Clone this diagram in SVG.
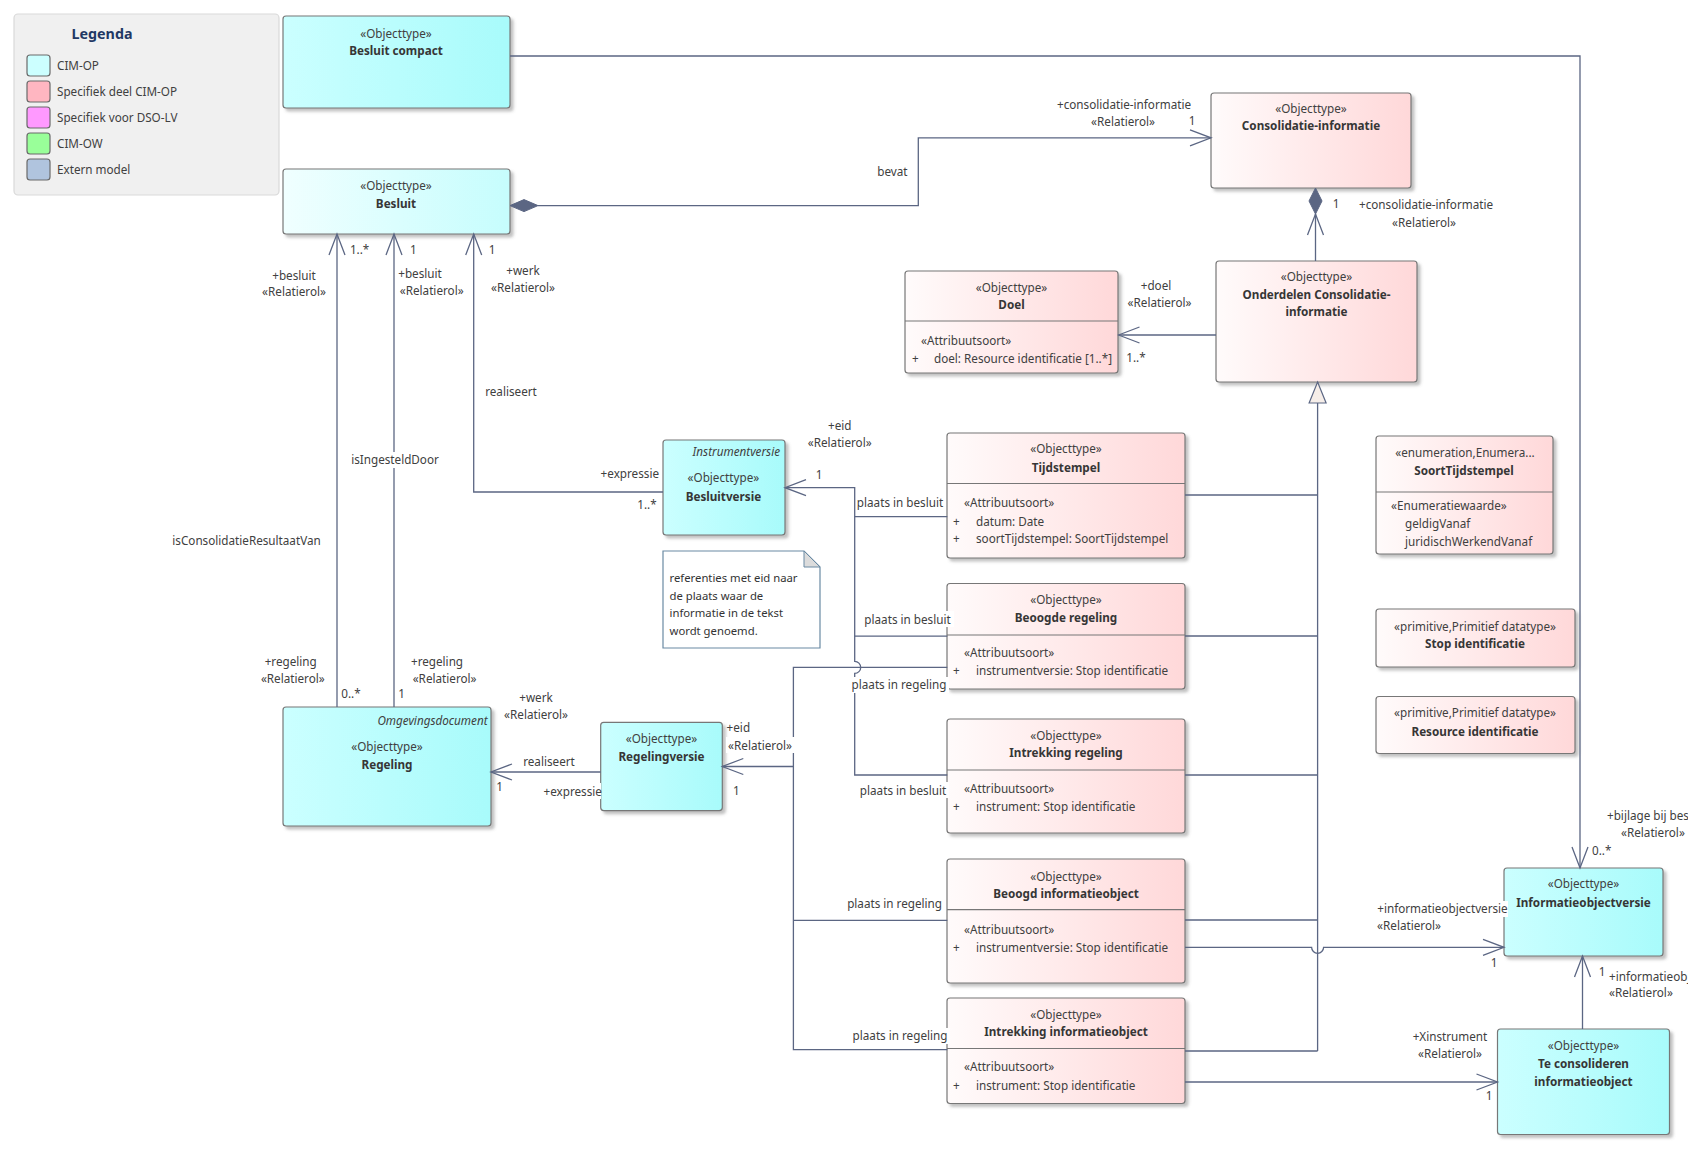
<svg xmlns="http://www.w3.org/2000/svg" width="1688" height="1152" viewBox="0 0 1688 1152">
<defs>
<style>
.t{font-family:"Noto Sans","DejaVu Sans",sans-serif;font-size:11.7px;fill:#404040}
.c{text-anchor:middle}
.e{text-anchor:end}
.b{font-weight:bold;fill:#363636}
.i{font-style:italic}
.box{stroke:#777;stroke-width:1.2;filter:url(#sh)}
.cy{fill:url(#gCyan)}
.cyl{fill:url(#gCyanL)}
.pk{fill:url(#gPink)}
.sep{stroke:#777;stroke-width:1.2}
.ln{fill:none;stroke:#5b6683;stroke-width:1.3}
.arr{marker-end:url(#open)}
.gen{marker-end:url(#gen)}
.bg{fill:#fff}
.dia{fill:#5b6683;stroke:#5b6683;stroke-width:1}
.sw{stroke:#6a6a6a;stroke-width:1.2}
</style>
<linearGradient id="gCyan" x1="0" y1="0" x2="1" y2="0"><stop offset="0" stop-color="#cbffff"/><stop offset="1" stop-color="#a8fbfb"/></linearGradient>
<linearGradient id="gCyanL" x1="0" y1="0" x2="1" y2="0"><stop offset="0" stop-color="#f0ffff"/><stop offset="1" stop-color="#c6fdfd"/></linearGradient>
<linearGradient id="gPink" x1="0" y1="0" x2="1" y2="0"><stop offset="0" stop-color="#fffbfb"/><stop offset="1" stop-color="#ffd8d9"/></linearGradient>
<filter id="sh" x="-5%" y="-5%" width="115%" height="120%"><feDropShadow dx="3" dy="3" stdDeviation="1.5" flood-color="#777" flood-opacity="0.45"/></filter>
<marker id="open" viewBox="-23 -10 25 20" refX="0" refY="0" markerWidth="25" markerHeight="20" markerUnits="userSpaceOnUse" orient="auto"><path d="M-21,-8 L0,0 L-21,8" fill="none" stroke="#5b6683" stroke-width="1.3"/></marker>
<marker id="gen" viewBox="-23 -11 25 22" refX="0" refY="0" markerWidth="25" markerHeight="22" markerUnits="userSpaceOnUse" orient="auto"><path d="M-21,-8.5 L0,0 L-21,8.5 Z" fill="#f6eee9" stroke="#5b6683" stroke-width="1.2"/></marker>
</defs>
<rect width="1688" height="1152" fill="#fff"/>

<g id="legend">
<rect x="14" y="14" width="265" height="181" rx="4" fill="#f0f0f0" stroke="#d9d9d9" stroke-width="1.2"/>
<text class="t" x="102" y="39" text-anchor="middle" style="font-weight:bold;font-size:14.3px;fill:#1f3864">Legenda</text>
<rect class="sw" x="27" y="55" width="23" height="21" rx="3" fill="#ccffff"/>
<rect class="sw" x="27" y="81" width="23" height="21" rx="3" fill="#ffb6c1"/>
<rect class="sw" x="27" y="107" width="23" height="21" rx="3" fill="#ff99ff"/>
<rect class="sw" x="27" y="133" width="23" height="21" rx="3" fill="#99ff99"/>
<rect class="sw" x="27" y="159" width="23" height="21" rx="3" fill="#b0c4de"/>
<text class="t" x="57" y="70">CIM-OP</text>
<text class="t" x="57" y="96">Specifiek deel CIM-OP</text>
<text class="t" x="57" y="122">Specifiek voor DSO-LV</text>
<text class="t" x="57" y="148">CIM-OW</text>
<text class="t" x="57" y="174">Extern model</text>
</g>

<g id="n-besluit-compact">
<rect class="box cy" x="283" y="16" width="227" height="92" rx="3"/>
<text class="t c" x="396" y="37.5">«Objecttype»</text>
<text class="t c b" x="396" y="55">Besluit compact</text>
</g>
<g id="n-besluit">
<rect class="box cyl" x="283" y="169" width="227" height="65" rx="3"/>
<text class="t c" x="396" y="190">«Objecttype»</text>
<text class="t c b" x="396" y="208">Besluit</text>
</g>
<g id="n-consolidatie-informatie">
<rect class="box pk" x="1211" y="93" width="200" height="95" rx="3"/>
<text class="t c" x="1311" y="113">«Objecttype»</text>
<text class="t c b" x="1311" y="130">Consolidatie-informatie</text>
</g>
<g id="n-onderdelen">
<rect class="box pk" x="1216" y="261" width="201" height="121" rx="3"/>
<text class="t c" x="1316.5" y="281">«Objecttype»</text>
<text class="t c b" x="1316.5" y="299">Onderdelen Consolidatie-</text>
<text class="t c b" x="1316.5" y="316">informatie</text>
</g>
<g id="n-doel">
<rect class="box pk" x="905" y="271" width="213" height="102" rx="3"/>
<line class="sep" x1="905" y1="321" x2="1118" y2="321"/>
<text class="t c" x="1011.5" y="292">«Objecttype»</text>
<text class="t c b" x="1011.5" y="309">Doel</text>
<text class="t" x="921" y="344.5">«Attribuutsoort»</text>
<text class="t" x="912" y="363">+</text>
<text class="t" x="934" y="363">doel: Resource identificatie [1..*]</text>
</g>
<g id="n-tijdstempel">
<rect class="box pk" x="947" y="433" width="238" height="125" rx="3"/>
<line class="sep" x1="947" y1="483.5" x2="1185" y2="483.5"/>
<text class="t c" x="1066" y="453">«Objecttype»</text>
<text class="t c b" x="1066" y="471.5">Tijdstempel</text>
<text class="t" x="964" y="507">«Attribuutsoort»</text>
<text class="t" x="953" y="525.5">+</text>
<text class="t" x="976" y="525.5">datum: Date</text>
<text class="t" x="953" y="542.5">+</text>
<text class="t" x="976" y="542.5">soortTijdstempel: SoortTijdstempel</text>
</g>
<g id="n-beoogde-regeling">
<rect class="box pk" x="947" y="583.5" width="238" height="105.5" rx="3"/>
<line class="sep" x1="947" y1="635" x2="1185" y2="635"/>
<text class="t c" x="1066" y="604">«Objecttype»</text>
<text class="t c b" x="1066" y="622">Beoogde regeling</text>
<text class="t" x="964" y="657">«Attribuutsoort»</text>
<text class="t" x="953" y="675">+</text>
<text class="t" x="976" y="675">instrumentversie: Stop identificatie</text>
</g>
<g id="n-intrekking-regeling">
<rect class="box pk" x="947" y="719" width="238" height="114" rx="3"/>
<line class="sep" x1="947" y1="770" x2="1185" y2="770"/>
<text class="t c" x="1066" y="739.5">«Objecttype»</text>
<text class="t c b" x="1066" y="757">Intrekking regeling</text>
<text class="t" x="964" y="792.5">«Attribuutsoort»</text>
<text class="t" x="953" y="811">+</text>
<text class="t" x="976" y="811">instrument: Stop identificatie</text>
</g>
<g id="n-beoogd-informatieobject">
<rect class="box pk" x="947" y="859" width="238" height="124" rx="3"/>
<line class="sep" x1="947" y1="909.6" x2="1185" y2="909.6"/>
<text class="t c" x="1066" y="881">«Objecttype»</text>
<text class="t c b" x="1066" y="898">Beoogd informatieobject</text>
<text class="t" x="964" y="933.5">«Attribuutsoort»</text>
<text class="t" x="953" y="952">+</text>
<text class="t" x="976" y="952">instrumentversie: Stop identificatie</text>
</g>
<g id="n-intrekking-informatieobject">
<rect class="box pk" x="947" y="998" width="238" height="105.5" rx="3"/>
<line class="sep" x1="947" y1="1048.5" x2="1185" y2="1048.5"/>
<text class="t c" x="1066" y="1018.5">«Objecttype»</text>
<text class="t c b" x="1066" y="1036">Intrekking informatieobject</text>
<text class="t" x="964" y="1071">«Attribuutsoort»</text>
<text class="t" x="953" y="1089.5">+</text>
<text class="t" x="976" y="1089.5">instrument: Stop identificatie</text>
</g>
<g id="n-soorttijdstempel">
<rect class="box pk" x="1376" y="436" width="177" height="118" rx="3"/>
<line class="sep" x1="1376" y1="492" x2="1553" y2="492"/>
<text class="t c" x="1465" y="456.5">«enumeration,Enumera...</text>
<text class="t c b" x="1464" y="475">SoortTijdstempel</text>
<text class="t" x="1391" y="509.5">«Enumeratiewaarde»</text>
<text class="t" x="1405" y="527.5">geldigVanaf</text>
<text class="t" x="1405" y="546">juridischWerkendVanaf</text>
</g>
<g id="n-stop-identificatie">
<rect class="box pk" x="1376" y="609" width="199" height="58" rx="3"/>
<text class="t c" x="1475" y="631">«primitive,Primitief datatype»</text>
<text class="t c b" x="1475" y="648">Stop identificatie</text>
</g>
<g id="n-resource-identificatie">
<rect class="box pk" x="1376" y="696.5" width="199" height="57" rx="3"/>
<text class="t c" x="1475" y="717">«primitive,Primitief datatype»</text>
<text class="t c b" x="1475" y="735.5">Resource identificatie</text>
</g>
<g id="n-informatieobjectversie">
<rect class="box cy" x="1504" y="868" width="159" height="88" rx="3"/>
<text class="t c" x="1583.5" y="888">«Objecttype»</text>
<text class="t c b" x="1583.5" y="906.5">Informatieobjectversie</text>
</g>
<g id="n-te-consolideren">
<rect class="box cy" x="1497.5" y="1029" width="172" height="105.5" rx="3"/>
<text class="t c" x="1583.5" y="1049.5">«Objecttype»</text>
<text class="t c b" x="1583.5" y="1068">Te consolideren</text>
<text class="t c b" x="1583.5" y="1085.5">informatieobject</text>
</g>
<g id="n-besluitversie">
<rect class="box cy" x="663" y="440" width="122" height="95" rx="3"/>
<text class="t e i" x="780" y="456">Instrumentversie</text>
<text class="t c" x="723.4" y="482">«Objecttype»</text>
<text class="t c b" x="723.4" y="500.5">Besluitversie</text>
</g>
<g id="n-note">
<path d="M663,551 H804 L820,567 V648 H663 Z" fill="#fff" stroke="#6a8aa3" stroke-width="1.2"/>
<path d="M804,551 V567 H820 Z" fill="#dcdcdc" stroke="#6a8aa3" stroke-width="1"/>
<text class="t" x="669.5" y="582" style="font-size:11.3px;fill:#333">referenties met eid naar</text>
<text class="t" x="669.5" y="599.5" style="font-size:11.3px;fill:#333">de plaats waar de</text>
<text class="t" x="669.5" y="617" style="font-size:11.3px;fill:#333">informatie in de tekst</text>
<text class="t" x="669.5" y="635" style="font-size:11.3px;fill:#333">wordt genoemd.</text>
</g>
<g id="n-regeling">
<rect class="box cy" x="283" y="707" width="208" height="119" rx="3"/>
<text class="t e i" x="487.6" y="724.5">Omgevingsdocument</text>
<text class="t c" x="387" y="750.5">«Objecttype»</text>
<text class="t c b" x="387" y="769">Regeling</text>
</g>
<g id="n-regelingversie">
<rect class="box cy" x="600.7" y="722.3" width="121.6" height="88.3" rx="3"/>
<text class="t c" x="661.5" y="743">«Objecttype»</text>
<text class="t c b" x="661.5" y="761">Regelingversie</text>
</g>

<g id="connectors">
<path class="ln arr" d="M510,56 H1580 V868"/>
<path class="ln arr" d="M538,205.6 H918.3 V137.8 H1211"/>
<polygon class="dia" points="510,205.6 524,199.6 538,205.6 524,211.6"/>
<path class="ln arr" d="M1315.5,261 V214"/>
<polygon class="dia" points="1315.5,188 1322,201 1315.5,214 1309,201"/>
<path class="ln arr" d="M1216,335 H1118.5"/>
<path class="ln gen" d="M1317.6,1051 V382"/>
<path class="ln" d="M1185,495 H1317.6 M1185,636 H1317.6 M1185,775 H1317.6 M1185,920 H1317.6 M1185,1051 H1317.6"/>
<path class="ln arr" d="M1185,947.3 H1311.6 A6,6 0 0 0 1323.6,947.3 H1504"/>
<path class="ln arr" d="M1185,1082 H1497.5"/>
<path class="ln arr" d="M1582.5,1029 V956"/>
<path class="ln arr" d="M663,492 H473.7 V234"/>
<path class="ln arr" d="M394,707 V234"/>
<path class="ln arr" d="M337,707 V234"/>
<path class="ln arr" d="M600.7,772 H491"/>
<path class="ln arr" d="M947.3,775 H854.7 V673.4 A6,6 0 0 0 854.7,661.4 V487.7 H785"/>
<path class="ln" d="M854.7,516.7 H947.3 M854.7,636.2 H947.3"/>
<path class="ln" d="M947.3,667.4 H793.4 V1049.6 H947.3 M793.4,920.4 H947.3"/>
<path class="ln arr" d="M793.4,766.5 H722.3"/>

<rect class="bg" x="352" y="452" width="86" height="16"/>
<rect class="bg" x="861" y="611" width="93" height="16"/>
<rect class="bg" x="850" y="677" width="99" height="16"/>
<rect class="bg" x="856" y="782" width="93" height="16"/>
<rect class="bg" x="850" y="1028" width="100" height="16"/>
<rect class="bg" x="544" y="783" width="57" height="16"/>
<rect class="bg" x="1377" y="901" width="131" height="16"/>
<rect class="bg" x="726" y="737" width="69" height="16"/>

<text class="t" x="1607" y="820">+bijlage bij bes</text>
<text class="t" x="1621" y="836.5">«Relatierol»</text>
<text class="t" x="1592" y="855">0..*</text>

<text class="t c" x="892.4" y="175.5">bevat</text>
<text class="t c" x="1124" y="109">+consolidatie-informatie</text>
<text class="t c" x="1123" y="126">«Relatierol»</text>
<text class="t c" x="1192" y="125">1</text>

<text class="t c" x="1336" y="208">1</text>
<text class="t c" x="1426" y="209">+consolidatie-informatie</text>
<text class="t c" x="1424" y="227">«Relatierol»</text>

<text class="t c" x="1156" y="289.5">+doel</text>
<text class="t c" x="1159.5" y="307">«Relatierol»</text>
<text class="t c" x="1136" y="362">1..*</text>

<text class="t c" x="1442.5" y="913">+informatieobjectversie</text>
<text class="t c" x="1409" y="930">«Relatierol»</text>
<text class="t c" x="1494" y="966.5">1</text>

<text class="t c" x="1450" y="1041">+Xinstrument</text>
<text class="t c" x="1450" y="1058">«Relatierol»</text>
<text class="t c" x="1489" y="1100">1</text>

<text class="t c" x="1602" y="976">1</text>
<text class="t" x="1609" y="981">+informatieobj</text>
<text class="t" x="1609" y="997">«Relatierol»</text>

<text class="t c" x="511" y="396">realiseert</text>
<text class="t c" x="523" y="274.5">+werk</text>
<text class="t c" x="523" y="292">«Relatierol»</text>
<text class="t c" x="492" y="254">1</text>
<text class="t c" x="629.8" y="478">+expressie</text>
<text class="t c" x="647" y="509">1..*</text>

<text class="t c" x="395" y="464">isIngesteldDoor</text>
<text class="t c" x="420" y="278">+besluit</text>
<text class="t c" x="431.7" y="295">«Relatierol»</text>
<text class="t c" x="413.4" y="254">1</text>
<text class="t c" x="437" y="665.5">+regeling</text>
<text class="t c" x="444.6" y="682.5">«Relatierol»</text>
<text class="t c" x="401.5" y="697.5">1</text>

<text class="t c" x="246.5" y="545">isConsolidatieResultaatVan</text>
<text class="t c" x="294" y="280">+besluit</text>
<text class="t c" x="294" y="296">«Relatierol»</text>
<text class="t c" x="359.6" y="254">1..*</text>
<text class="t c" x="290.7" y="665.5">+regeling</text>
<text class="t c" x="292.8" y="682.5">«Relatierol»</text>
<text class="t c" x="351" y="697.5">0..*</text>

<text class="t c" x="549" y="765.5">realiseert</text>
<text class="t c" x="536" y="702">+werk</text>
<text class="t c" x="536" y="719">«Relatierol»</text>
<text class="t c" x="499.5" y="791">1</text>
<text class="t c" x="572.7" y="795.5">+expressie</text>

<text class="t c" x="839.7" y="429.5">+eid</text>
<text class="t c" x="839.7" y="447">«Relatierol»</text>
<text class="t c" x="819" y="479">1</text>
<text class="t c" x="900" y="507">plaats in besluit</text>
<text class="t c" x="907.5" y="623.5">plaats in besluit</text>
<text class="t c" x="903" y="794.5">plaats in besluit</text>

<text class="t" x="726.6" y="732">+eid</text>
<text class="t c" x="760" y="749.5">«Relatierol»</text>
<text class="t c" x="736.3" y="794.5">1</text>
<text class="t c" x="899" y="689">plaats in regeling</text>
<text class="t c" x="894.6" y="907.5">plaats in regeling</text>
<text class="t c" x="900" y="1040">plaats in regeling</text>
</g>
</svg>
